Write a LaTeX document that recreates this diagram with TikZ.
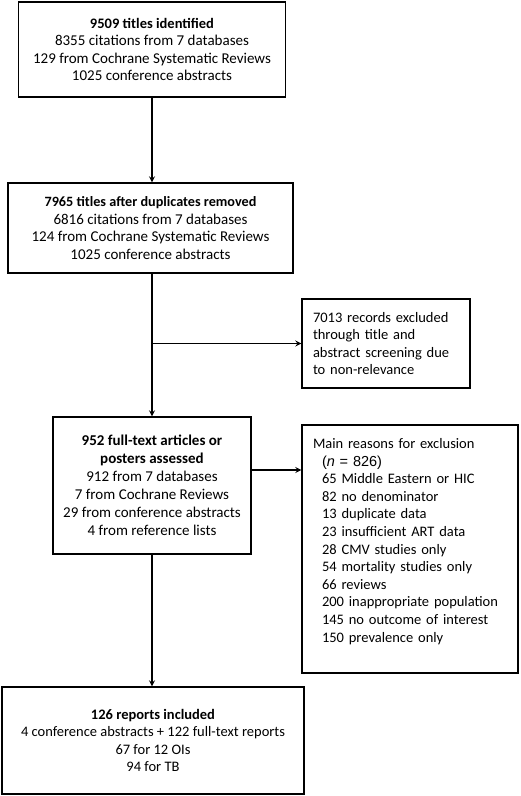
\documentclass[tikz,border=0pt]{standalone}
\usepackage{fontspec}
\setmainfont{Carlito}
\newfontfamily\arialfont{Liberation Sans}
\usepackage{tikz}

\begin{document}
\begin{tikzpicture}[x=1pt,y=-1pt,
    box/.style={draw,line width=1.4pt,inner sep=0pt,font=\fontsize{14.5}{17.6}\selectfont},
    big/.style={font=\fontsize{15}{17.6}\selectfont},
    flow/.style={line width=1.6pt,-stealth}]
    \useasboundingbox (0,0) rectangle (520,796);
    \node[box,big,minimum width=267pt,minimum height=95pt,align=center] (ident) at (152,49.5)
        {{\fontsize{14.5}{17.6}\selectfont\textbf{9509 titles identified}}\\8355 citations from 7 databases\\129 from Cochrane Systematic Reviews\\1025 conference abstracts};
    \node[box,big,minimum width=285pt,minimum height=90pt,align=center] (dedup) at (150.5,228)
        {{\fontsize{14.2}{17.6}\selectfont\textbf{7965 titles after duplicates removed}}\\6816 citations from 7 databases\\124 from Cochrane Systematic Reviews\\1025 conference abstracts};
    \node[box,minimum width=168pt,minimum height=89pt,text width=146pt,align=left] (screen) at (386,343.5)
        {7013 records excluded\\through title and\\abstract screening due\\to non-relevance};
    \node[box,font=\fontsize{15}{17.9}\selectfont,minimum width=198pt,minimum height=137pt,align=center] (full) at (152,485.5)
        {\textbf{952 full-text articles or}\\\textbf{posters assessed}\\912 from 7 databases\\7 from Cochrane Reviews\\29 from conference abstracts\\4 from reference lists};
    \node[box,minimum width=216pt,minimum height=248pt,text width=194pt,align=left] (reasons) at (410,549)
        {Main reasons for exclusion\\\hspace*{9pt}{\arialfont(\textit{n} = 826)}\\\hspace*{9pt}65 Middle Eastern or HIC\\\hspace*{9pt}82 no denominator\\\hspace*{9pt}13 duplicate data\\\hspace*{9pt}23 insufficient ART data\\\hspace*{9pt}28 CMV studies only\\\hspace*{9pt}54 mortality studies only\\\hspace*{9pt}66 reviews\\\hspace*{9pt}200 inappropriate population\\\hspace*{9pt}145 no outcome of interest\\\hspace*{9pt}150 prevalence only\\\mbox{}};
    \node[box,minimum width=302pt,minimum height=107pt,align=center] (incl) at (153,740.5)
        {\textbf{126 reports included}\\4 conference abstracts + 122 full-text reports\\67 for 12 OIs\\94 for TB};
    \draw[flow] (ident.south) -- (ident.south |- dedup.north);
    \draw[flow] (dedup.south -| full.north) -- (full.north);
    \draw[flow] (screen.west -| full.north) -- (screen.west);
    \draw[flow] ([yshift=15.5pt]full.east) -- ([yshift=15.5pt]full.east -| reasons.west);
    \draw[flow] (full.south) -- (full.south |- incl.north);
\end{tikzpicture}
\end{document}
